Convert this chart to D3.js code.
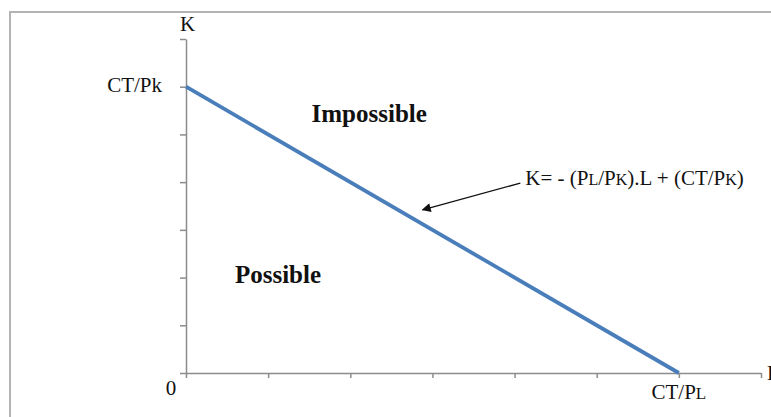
<!DOCTYPE html>
<html>
<head>
<meta charset="utf-8">
<script src="https://cdn.jsdelivr.net/npm/d3@7"></script>
<style>
  body { margin: 0; background: #fff; }
  svg text { font-family: "Liberation Serif", "Times New Roman", serif; fill: #111; }
  .axis path, .axis line { stroke: #8c8c8c; stroke-width: 1.5; }
</style>
</head>
<body>
<svg id="chart" width="771" height="417"></svg>
<script>
// data (axis units: ticks 0..7 on each axis)
var xTicks = [0, 1, 2, 3, 4, 5, 6, 7];
var yTicks = [0, 1, 2, 3, 4, 5, 6, 7];
var budgetL = [0, 6];   // L values of the budget line ends
var budgetK = [6, 0];   // K values of the budget line ends
var regionLabels = ["Impossible", "Possible"];
var regionL = [2.23, 1.12];
var regionK = [5.26, 1.89];

var svg = d3.select("#chart");

// outer frame (runs past the right/bottom edge)
svg.append("rect")
    .attr("x", 10).attr("y", 12)
    .attr("width", 900).attr("height", 600)
    .attr("fill", "none")
    .attr("stroke", "#b3b3b3")
    .attr("stroke-width", 2);

var xScale = d3.scaleLinear().domain([0, 7]).range([186, 761]);
var yScale = d3.scaleLinear().domain([0, 7]).range([373, 39]);

var xAxis = d3.axisBottom(xScale).tickValues(xTicks).tickSize(5).tickSizeOuter(0).tickFormat("");
var yAxis = d3.axisLeft(yScale).tickValues(yTicks).tickSize(6).tickSizeOuter(0).tickFormat("");

svg.append("g").attr("class", "axis")
    .attr("transform", "translate(0," + yScale(0) + ")")
    .call(xAxis);
svg.append("g").attr("class", "axis")
    .attr("transform", "translate(" + xScale(0) + ",0)")
    .call(yAxis);

// budget line
var line = d3.line()
    .x(function (d, i) { return xScale(budgetL[i]); })
    .y(function (d, i) { return yScale(budgetK[i]); });
svg.append("path")
    .datum(budgetL)
    .attr("d", line)
    .attr("fill", "none")
    .attr("stroke", "#4a7ebb")
    .attr("stroke-width", 3.8);

// axis labels
svg.append("text").attr("x", xScale(0) - 6).attr("y", yScale(7) - 8)
    .attr("font-size", 21).text("K");
svg.append("text").attr("x", xScale(7) + 6).attr("y", yScale(0) + 7)
    .attr("font-size", 21).text("L");
svg.append("text").attr("x", xScale(0) - 15).attr("y", yScale(0) + 22)
    .attr("font-size", 21).attr("text-anchor", "middle").text("0");

svg.append("text").attr("x", xScale(0) - 24).attr("y", yScale(6) + 5)
    .attr("font-size", 21).attr("text-anchor", "end").text("CT/Pk");

var ctpl = svg.append("text").attr("x", xScale(6)).attr("y", yScale(0) + 26)
    .attr("font-size", 21).attr("text-anchor", "middle");
ctpl.append("tspan").text("CT/P");
ctpl.append("tspan").attr("font-size", 17).text("L");

// region labels
svg.selectAll(".region")
    .data(regionLabels)
    .enter().append("text")
    .attr("class", "region")
    .attr("x", function (d, i) { return xScale(regionL[i]); })
    .attr("y", function (d, i) { return yScale(regionK[i]); })
    .attr("text-anchor", "middle")
    .attr("font-size", 25)
    .attr("font-weight", "bold")
    .text(function (d) { return d; });

// equation annotation with arrow
svg.append("defs").append("marker")
    .attr("id", "arrow")
    .attr("viewBox", "0 0 10 10")
    .attr("refX", 9).attr("refY", 5)
    .attr("markerWidth", 10).attr("markerHeight", 9)
    .attr("markerUnits", "userSpaceOnUse")
    .attr("orient", "auto")
    .append("path").attr("d", "M0,0 L10,5 L0,10 z").attr("fill", "#111");

svg.append("line")
    .attr("x1", xScale(4.07)).attr("y1", yScale(3.98))
    .attr("x2", xScale(2.88)).attr("y2", yScale(3.42))
    .attr("stroke", "#111").attr("stroke-width", 1.3)
    .attr("marker-end", "url(#arrow)");

var eq = svg.append("text").attr("x", xScale(4.13)).attr("y", yScale(3.94))
    .attr("font-size", 21);
var parts = [["K= - (P", 21], ["L", 16], ["/P", 21], ["K", 16], [").L + (CT/P", 21], ["K", 16], [")", 21]];
parts.forEach(function (p) {
    eq.append("tspan").attr("font-size", p[1]).text(p[0]);
});
</script>
</body>
</html>
